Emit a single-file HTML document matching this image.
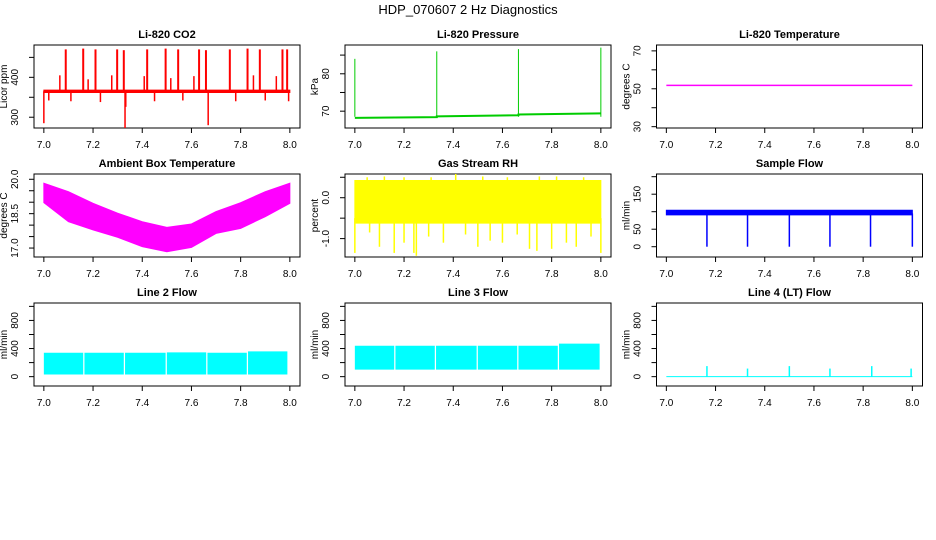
<!DOCTYPE html>
<html><head><meta charset="utf-8">
<style>
html,body{margin:0;padding:0;background:#fff;}
svg{display:block;font-family:"Liberation Sans",sans-serif;}
</style></head>
<body>
<svg id="c" width="936" height="540" viewBox="0 0 936 540">
<text x="468" y="14" text-anchor="middle" font-size="13">HDP_070607 2 Hz Diagnostics</text>
</svg>
<script>
// ---- data ----
const xTicks = [7.0, 7.2, 7.4, 7.6, 7.8, 8.0];
const xTickLabels = ["7.0", "7.2", "7.4", "7.6", "7.8", "8.0"];

// CO2
const co2Base = 365;
const co2UpTimes = [7.089, 7.16, 7.21, 7.298, 7.325, 7.42, 7.495, 7.546, 7.631, 7.659, 7.756, 7.828, 7.878, 7.97, 7.989];
const co2UpVals = [470, 472, 470, 470, 468, 470, 472, 470, 470, 468, 470, 472, 470, 470, 470];
const co2SmallTimes = [7.065, 7.18, 7.276, 7.408, 7.516, 7.61, 7.852, 7.945];
const co2SmallVals = [405, 395, 405, 403, 398, 403, 405, 403];
const co2DownTimes = [7.0, 7.02, 7.11, 7.23, 7.33, 7.333, 7.45, 7.565, 7.668, 7.78, 7.9, 7.995];
const co2DownVals = [285, 342, 340, 338, 273, 326, 340, 342, 280, 340, 342, 340];

// Pressure
const presBaseT = [7.0, 7.333, 7.333, 7.665, 7.665, 8.0];
const presBaseV = [68.2, 68.4, 68.6, 68.9, 69.1, 69.4];
const presSpikeT = [7.0, 7.333, 7.665, 8.0];
const presSpikeV = [84, 86, 86.6, 87];

// Li-820 temperature
const tempT = [7.0, 8.0];
const tempV = [51.8, 51.8];

// Ambient box temperature envelope
const ambT = [7.0, 7.1, 7.2, 7.3, 7.4, 7.5, 7.6, 7.7, 7.8, 7.9, 8.0];
const ambHi = [19.83, 19.46, 18.95, 18.52, 18.15, 17.90, 18.05, 18.59, 18.98, 19.46, 19.83];
const ambLo = [18.98, 18.15, 17.79, 17.47, 17.06, 16.84, 17.03, 17.64, 17.86, 18.37, 18.95];

// Gas stream RH
const rhT = [7.0, 8.0];
const rhHi = [0.42, 0.42];
const rhLo = [-0.62, -0.62];
const rhUpT = [7.05, 7.12, 7.2, 7.31, 7.41, 7.52, 7.62, 7.75, 7.82, 7.93];
const rhUpV = [0.5, 0.52, 0.5, 0.5, 0.58, 0.52, 0.5, 0.52, 0.52, 0.5];
const rhDownT = [7.0, 7.06, 7.1, 7.16, 7.2, 7.24, 7.25, 7.3, 7.36, 7.45, 7.5, 7.55, 7.6, 7.66, 7.71, 7.74, 7.8, 7.86, 7.9, 7.96, 8.0];
const rhDownV = [-1.35, -0.85, -1.2, -1.35, -1.1, -1.35, -1.42, -0.95, -1.1, -0.9, -1.2, -1.05, -1.1, -0.9, -1.25, -1.3, -1.25, -1.1, -1.2, -0.95, -1.35];

// Sample flow
const sfT = [7.0, 8.0];
const sfHi = [104, 104];
const sfLo = [91, 91];
const sfDipT = [7.165, 7.33, 7.5, 7.665, 7.83, 8.0];
const sfDipV = [0, 0, 0, 0, 0, 0];

// Line 2 / 3 flow segments
const l2Start = [7.0, 7.165, 7.33, 7.5, 7.665, 7.83];
const l2End = [7.16, 7.325, 7.495, 7.66, 7.825, 7.99];
const l2Lo = [30, 30, 30, 30, 30, 30];
const l2Hi = [340, 340, 340, 345, 340, 360];
const l3Start = [7.0, 7.165, 7.33, 7.5, 7.665, 7.83];
const l3End = [7.16, 7.325, 7.495, 7.66, 7.825, 7.995];
const l3Lo = [100, 100, 100, 100, 100, 100];
const l3Hi = [440, 440, 440, 440, 440, 470];

// Line 4 flow
const l4T = [7.0, 8.0];
const l4V = [0, 0];
const l4SpikeT = [7.165, 7.33, 7.5, 7.665, 7.835, 7.995];
const l4SpikeV = [150, 115, 150, 115, 150, 115];

// ---- drawing ----
const svg = document.getElementById('c');
const NS = 'http://www.w3.org/2000/svg';
function mk(tag, attrs, parent) {
  const e = document.createElementNS(NS, tag);
  for (const k in attrs) e.setAttribute(k, attrs[k]);
  (parent || svg).appendChild(e);
  return e;
}
const colL = [34, 345, 656.5];
const rowT = [45, 174, 303];
const W = 266, H = 83;

function panel(col, row, title, ylab, ymin, ymax, yTicks, yLabels, name) {
  const L = colL[col], T = rowT[row];
  const g = mk('g', {});
  
  
  const sx = v => L + 9.85 + (v - 7) * 246;
  const sy = v => T + H - (v - ymin) / (ymax - ymin) * H;
  const box = mk('rect', {x: L, y: T, width: W, height: H, fill: 'none', stroke: '#000', 'stroke-width': 1}, g);
  
  
  const t = mk('text', {x: L + W / 2, y: T - 7, 'text-anchor': 'middle', 'font-size': 11, 'font-weight': 'bold'}, g);
  t.textContent = title;
  
  
  const xa = mk('g', {}, g);
  
  
  mk('line', {x1: sx(xTicks[0]), x2: sx(xTicks[xTicks.length - 1]), y1: T + H, y2: T + H, stroke: '#000'}, xa);
  xTicks.forEach((v, i) => {
    mk('line', {x1: sx(v), x2: sx(v), y1: T + H, y2: T + H + 5, stroke: '#000'}, xa);
    const lt = mk('text', {x: sx(v), y: T + H + 20, 'text-anchor': 'middle', 'font-size': 10}, xa);
    lt.textContent = xTickLabels[i];
  });
  const ya = mk('g', {}, g);
  
  
  mk('line', {x1: L, x2: L, y1: sy(yTicks[0]), y2: sy(yTicks[yTicks.length - 1]), stroke: '#000'}, ya);
  yTicks.forEach((v, i) => {
    mk('line', {x1: L - 5, x2: L, y1: sy(v), y2: sy(v), stroke: '#000'}, ya);
    if (yLabels[i]) {
      const yy = sy(v);
      const lx = L - 16;
      const lt = mk('text', {x: lx, y: yy, 'text-anchor': 'middle', 'font-size': 10, transform: `rotate(-90 ${lx} ${yy})`}, ya);
      lt.textContent = yLabels[i];
    }
  });
  const cy = T + H / 2, cx = L - 27;
  const yt = mk('text', {x: cx, y: cy, 'text-anchor': 'middle', 'font-size': 10, transform: `rotate(-90 ${cx} ${cy})`}, g);
  yt.textContent = ylab;
  
  
  const d = mk('g', {}, g);
  
  
  return {sx, sy, d};
}
function spikes(p, ts, vs, base, color, w) {
  ts.forEach((t, i) => mk('line', {x1: p.sx(t), x2: p.sx(t), y1: p.sy(base), y2: p.sy(vs[i]), stroke: color, 'stroke-width': w}, p.d));
}
function band(p, ts, hi, lo, color, sw) {
  let pts = ts.map((t, i) => p.sx(t) + ',' + p.sy(hi[i]));
  for (let i = ts.length - 1; i >= 0; i--) pts.push(p.sx(ts[i]) + ',' + p.sy(lo[i]));
  mk('polygon', {points: pts.join(' '), fill: color, stroke: color, 'stroke-width': sw === undefined ? 1 : sw}, p.d);
}
function line(p, ts, vs, color, w) {
  mk('polyline', {points: ts.map((t, i) => p.sx(t) + ',' + p.sy(vs[i])).join(' '), fill: 'none', stroke: color, 'stroke-width': w}, p.d);
}

let p = panel(0, 0, 'Li-820 CO2', 'Licor ppm', 273, 481, [300, 350, 400, 450], ['300', '', '400', ''], 'co2');
band(p, [7, 8], [368, 368], [362, 362], '#ff0000');
spikes(p, co2UpTimes, co2UpVals, co2Base, '#ff0000', 2);
spikes(p, co2SmallTimes, co2SmallVals, co2Base, '#ff0000', 1.5);
spikes(p, co2DownTimes, co2DownVals, co2Base, '#ff0000', 1.5);

p = panel(1, 0, 'Li-820 Pressure', 'kPa', 65.5, 87.7, [70, 75, 80, 85], ['70', '', '80', ''], 'pressure');
line(p, presBaseT, presBaseV, '#00cc00', 2);
spikes(p, presSpikeT, presSpikeV, 68.5, '#00cc00', 1);

p = panel(2, 0, 'Li-820 Temperature', 'degrees C', 29.3, 73.1, [30, 40, 50, 60, 70], ['30', '', '50', '', '70'], 'li820-temperature');
line(p, tempT, tempV, '#ff00ff', 1.5);

p = panel(0, 1, 'Ambient Box Temperature', 'degrees C', 16.61, 20.23, [17, 17.5, 18, 18.5, 19, 19.5, 20], ['17.0', '', '', '18.5', '', '', '20.0'], 'ambient-temperature');
band(p, ambT, ambHi, ambLo, '#ff00ff');

p = panel(1, 1, 'Gas Stream RH', 'percent', -1.45, 0.58, [-1.0, -0.5, 0.0, 0.5], ['-1.0', '', '0.0', ''], 'gas-stream-rh');
band(p, rhT, rhHi, rhLo, '#ffff00');
spikes(p, rhUpT, rhUpV, 0, '#ffff00', 1.5);
spikes(p, rhDownT, rhDownV, -0.5, '#ffff00', 1.5);

p = panel(2, 1, 'Sample Flow', 'ml/min', -29.4, 207.7, [0, 50, 100, 150, 200], ['0', '50', '', '150', ''], 'sample-flow');
band(p, sfT, sfHi, sfLo, '#0000ff');
spikes(p, sfDipT, sfDipV, 95, '#0000ff', 1.5);

p = panel(0, 2, 'Line 2 Flow', 'ml/min', -133, 1048, [0, 200, 400, 600, 800, 1000], ['0', '', '400', '', '800', ''], 'line2-flow');
l2Start.forEach((s, i) => band(p, [s, l2End[i]], [l2Hi[i], l2Hi[i]], [l2Lo[i], l2Lo[i]], '#00ffff', 0));

p = panel(1, 2, 'Line 3 Flow', 'ml/min', -133, 1048, [0, 200, 400, 600, 800, 1000], ['0', '', '400', '', '800', ''], 'line3-flow');
l3Start.forEach((s, i) => band(p, [s, l3End[i]], [l3Hi[i], l3Hi[i]], [l3Lo[i], l3Lo[i]], '#00ffff', 0));

p = panel(2, 2, 'Line 4 (LT) Flow', 'ml/min', -133, 1048, [0, 200, 400, 600, 800, 1000], ['0', '', '400', '', '800', ''], 'line4-flow');
line(p, l4T, l4V, '#00ffff', 1);
spikes(p, l4SpikeT, l4SpikeV, 0, '#00ffff', 1.5);
</script>
</body></html>
